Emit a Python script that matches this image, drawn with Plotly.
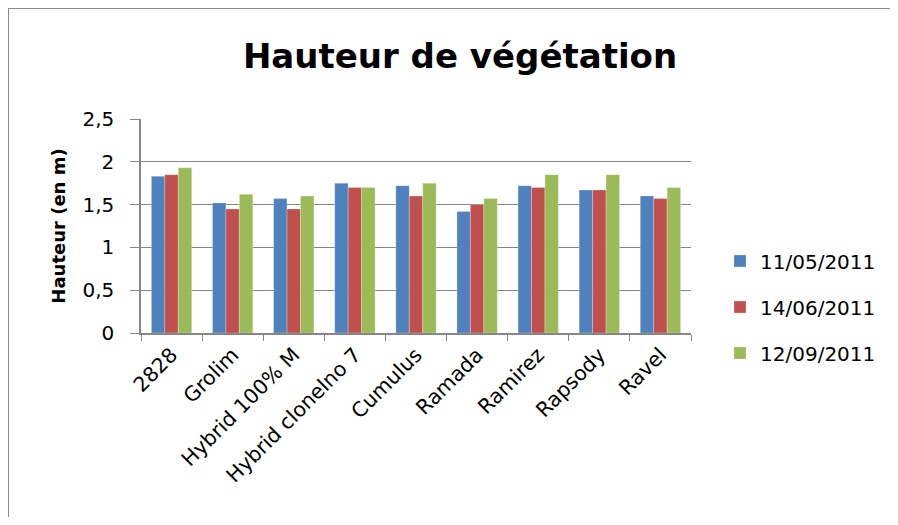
import plotly.graph_objects as go

categories = ["2828", "Grolim", "Hybrid 100% M", "Hybrid clonelno 7", "Cumulus",
              "Ramada", "Ramirez", "Rapsody", "Ravel"]
series_names = ["11/05/2011", "14/06/2011", "12/09/2011"]
values_1105 = [1.83, 1.52, 1.57, 1.75, 1.72, 1.42, 1.72, 1.67, 1.60]
values_1406 = [1.85, 1.45, 1.45, 1.70, 1.60, 1.50, 1.70, 1.67, 1.57]
values_1209 = [1.93, 1.62, 1.60, 1.70, 1.75, 1.57, 1.85, 1.85, 1.70]
y_ticks = [0, 0.5, 1, 1.5, 2, 2.5]
y_tick_labels = ["0", "0,5", "1", "1,5", "2", "2,5"]
colors = ["#4F81BD", "#C0504D", "#9BBB59"]

FONT = "DejaVu Sans"
OFF = 8  # page body margin
W, H = 898 - 2 * OFF, 525 - 2 * OFF
L, R, T, B = 141 - OFF, 691 - OFF, 119 - OFF, 333 - OFF

fig = go.Figure()
for i, (name, vals) in enumerate(zip(series_names, [values_1105, values_1406, values_1209])):
    fig.add_trace(go.Bar(x=categories, y=vals, name=name, marker_color=colors[i],
                         marker_line=dict(color="rgba(255,255,255,0.5)", width=0.5),
                         legendgroup=name))

fig.update_layout(
    width=W, height=H,
    margin=dict(l=L, r=W - R, t=T, b=H - B, autoexpand=False),
    paper_bgcolor="white", plot_bgcolor="white",
    font=dict(family=FONT, color="black", size=20),
    barmode="group", bargap=0.34, bargroupgap=0,
    title=dict(text="<b>Hauteur de végétation</b>", x=(460 - OFF) / W, xanchor="center",
               y=1 - (56 - OFF) / H, yanchor="middle", font=dict(size=34, family=FONT)),
    legend=dict(x=(720 - OFF - L) / (R - L), xanchor="left", y=(B - (307 - OFF)) / (B - T),
                yanchor="middle", font=dict(size=20, family=FONT), tracegroupgap=17,
                itemwidth=30),
    showlegend=True,
)
fig.update_xaxes(showline=True, linecolor="#868686", linewidth=1.5, ticks="outside",
                 tickson="boundaries", ticklen=6, tickcolor="#868686", tickangle=-45,
                 tickfont=dict(size=20.5), showgrid=False)
fig.update_yaxes(range=[0, 2.5], tickvals=y_ticks, ticktext=y_tick_labels,
                 showline=True, linecolor="#868686", linewidth=1.5, ticks="outside",
                 ticklen=9, tickcolor="#868686", showgrid=True, gridcolor="#868686",
                 gridwidth=1.3, zeroline=False, tickfont=dict(size=20), ticklabelstandoff=12,
                 title=dict(text="<b>Hauteur (en m)</b>", font=dict(size=18), standoff=12))

# outer chart frame (top and left edges only visible)
px = lambda v: (v - L) / (R - L)
py = lambda v: (B - v) / (B - T)
fig.add_shape(type="line", xref="paper", yref="paper", x0=px(0), x1=px(W), y0=py(0), y1=py(0),
              line=dict(color="#8c8c8c", width=2))
fig.add_shape(type="line", xref="paper", yref="paper", x0=px(0), x1=px(0), y0=py(0), y1=py(H),
              line=dict(color="#8c8c8c", width=2))

fig.write_html("out.html")
